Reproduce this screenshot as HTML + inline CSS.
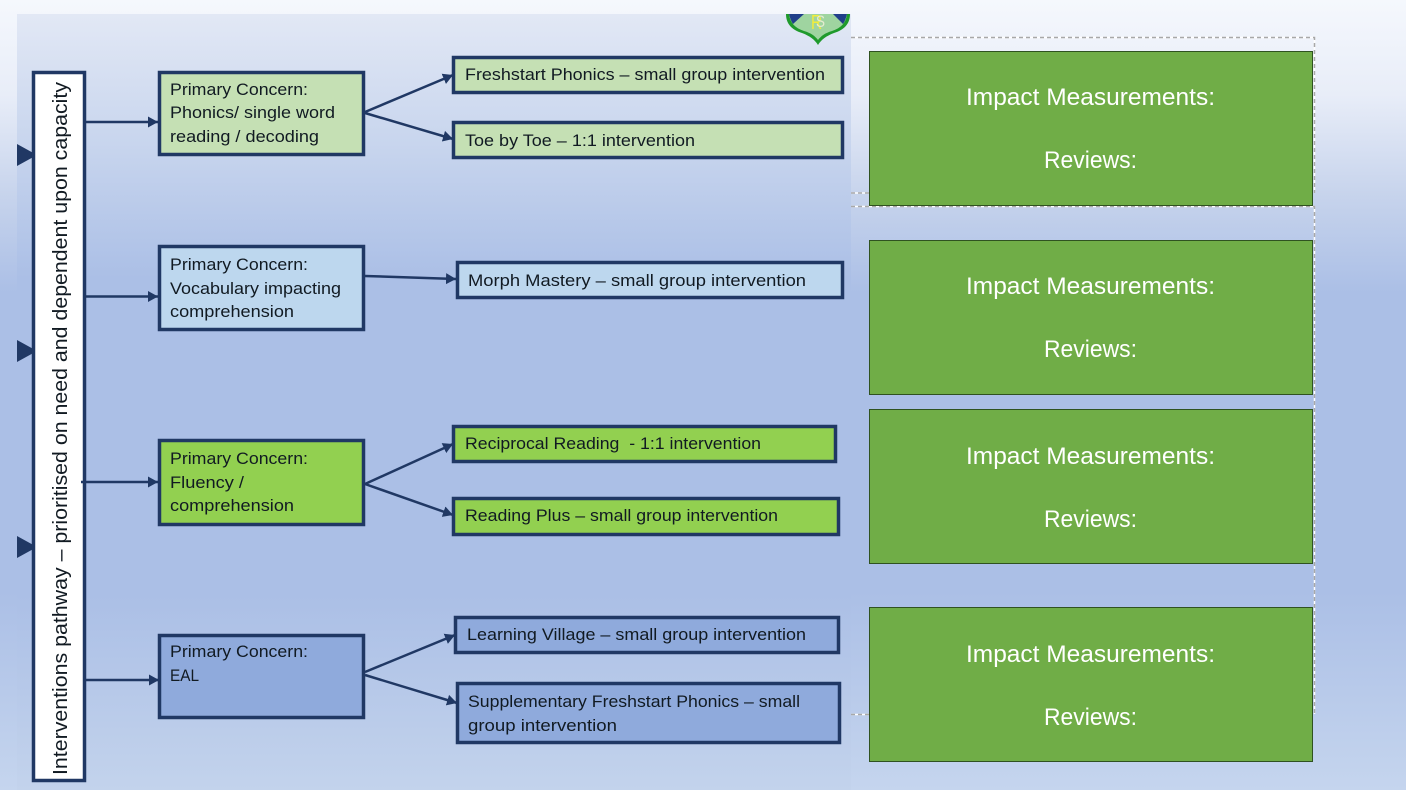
<!DOCTYPE html>
<html lang="en">
<head>
<meta charset="utf-8">
<title>Interventions pathway</title>
<style>
html,body{margin:0;padding:0;width:1406px;height:790px;overflow:hidden;background:#abbfe6}
svg{display:block}
text{font-family:"Liberation Sans",sans-serif;fill:#111a22}
.t{font-size:17px}
.w{font-size:24px;fill:#fff}
</style>
</head>
<body>
<svg width="1406" height="790" viewBox="0 0 1406 790" xmlns="http://www.w3.org/2000/svg">
<defs>
<linearGradient id="o" x1="0" y1="0" x2="0" y2="790" gradientUnits="userSpaceOnUse">
<stop offset="0" stop-color="#f5f8fd"/>
<stop offset=".12" stop-color="#e8edf8"/>
<stop offset=".25" stop-color="#c6d3ec"/>
<stop offset=".37" stop-color="#abbfe6"/>
<stop offset=".75" stop-color="#abbfe6"/>
<stop offset="1" stop-color="#c5d5ee"/>
</linearGradient>
<linearGradient id="i" x1="0" y1="14" x2="0" y2="790" gradientUnits="userSpaceOnUse">
<stop offset="0" stop-color="#e2e8f5"/>
<stop offset=".16" stop-color="#c9d6ee"/>
<stop offset=".34" stop-color="#abbfe6"/>
<stop offset=".75" stop-color="#abbfe6"/>
<stop offset="1" stop-color="#c3d3ec"/>
</linearGradient>
<marker id="a" markerUnits="userSpaceOnUse" markerWidth="11" markerHeight="12" refX="10" refY="6" orient="auto">
<path d="M0 0.500 L10 6 L0 11.500 Z" fill="#203864"/>
</marker>
</defs>

<rect width="1406" height="790" fill="url(#o)"/>
<rect x="17" y="14" width="834" height="776" fill="url(#i)"/>

<!-- Logo -->
<path d="M786 14 C786 24 792 30 802 33 C810 36 815 40 818 45 C821 40 826 36 834 33 C844 30 850 24 850 14 Z" fill="#1f9a2c"/>
<path d="M789 14 C790 23 795 28 804 31 C811 33 815 36 818 40 C821 36 825 33 832 31 C841 28 846 23 847 14 Z" fill="#9fd4a0"/>
<path d="M789 14 L804 14 L793 24 C791 21 790 18 789 14 Z M833 14 L847 14 C846 18 845 21 843 24 Z" fill="#203f8a"/>
<text x="811" y="29" style="font-size:20px;fill:#f2ee3a" textLength="11" lengthAdjust="spacingAndGlyphs">R</text>
<text x="816" y="27" style="font-size:17px;fill:#e6ecd0" textLength="9" lengthAdjust="spacingAndGlyphs">S</text>

<!-- Dashed outlines -->
<g fill="none" stroke-width="1.5">
<path d="M851 37.500H1314.500V193M851 193H869M851 206.500H1314.500V714M851 714.500H869" stroke="#fff"/>
<path d="M851 37.500H1314.500V193M851 193H869M851 206.500H1314.500V714M851 714.500H869" stroke="#a8a8a8" stroke-dasharray="4 3"/>
</g>

<!-- Left triangles -->
<path d="M17 144 L37 155 L17 166 Z M17 340 L37 351 L17 362 Z M17 536 L37 547 L17 558 Z" fill="#203864"/>

<!-- Pathway box -->
<rect x="33.500" y="72.500" width="51" height="708" fill="#fff" stroke="#203864" stroke-width="3.500"/>
<text transform="translate(67 775) rotate(-90)" textLength="693" lengthAdjust="spacingAndGlyphs" style="font-size:20px">Interventions pathway – prioritised on need and dependent upon capacity</text>

<!-- Connectors -->
<g stroke="#203864" stroke-width="2.500" fill="none" marker-end="url(#a)">
<line x1="86" y1="122" x2="158" y2="122"/>
<line x1="86" y1="296.500" x2="158" y2="296.500"/>
<line x1="81" y1="482" x2="158" y2="482"/>
<line x1="86" y1="680" x2="159" y2="680"/>
<line x1="365" y1="112" x2="453" y2="75"/>
<line x1="365" y1="113" x2="453" y2="139"/>
<line x1="365" y1="276" x2="456" y2="279"/>
<line x1="365" y1="484" x2="453" y2="444"/>
<line x1="365" y1="484" x2="453" y2="515"/>
<line x1="365" y1="672" x2="455" y2="635"/>
<line x1="365" y1="675" x2="457" y2="703"/>
</g>

<!-- Boxes -->
<g stroke="#203864" stroke-width="3.500">
<rect x="159.500" y="72.500" width="204" height="82" fill="#c5e0b4"/>
<rect x="159.500" y="246.500" width="204" height="83" fill="#bdd7ee"/>
<rect x="159.500" y="440.500" width="204" height="84" fill="#92d050"/>
<rect x="159.500" y="635.500" width="204" height="82" fill="#8faadc"/>
<rect x="453.500" y="57.500" width="389" height="35" fill="#c5e0b4"/>
<rect x="453.500" y="122.500" width="389" height="35" fill="#c5e0b4"/>
<rect x="457.500" y="262.500" width="385" height="35" fill="#bdd7ee"/>
<rect x="453.500" y="426.500" width="382" height="35" fill="#92d050"/>
<rect x="453.500" y="498.500" width="385" height="36" fill="#92d050"/>
<rect x="455.500" y="617.500" width="383" height="35" fill="#8faadc"/>
<rect x="457.500" y="683.500" width="382" height="59" fill="#8faadc"/>
</g>

<!-- Concern text -->
<text class="t" x="170" y="95" textLength="138" lengthAdjust="spacingAndGlyphs">Primary Concern:</text>
<text class="t" x="170" y="118" textLength="165" lengthAdjust="spacingAndGlyphs">Phonics/ single word</text>
<text class="t" x="170" y="142" textLength="149" lengthAdjust="spacingAndGlyphs">reading / decoding</text>
<text class="t" x="170" y="270" textLength="138" lengthAdjust="spacingAndGlyphs">Primary Concern:</text>
<text class="t" x="170" y="294" textLength="171" lengthAdjust="spacingAndGlyphs">Vocabulary impacting</text>
<text class="t" x="170" y="317" textLength="124" lengthAdjust="spacingAndGlyphs">comprehension</text>
<text class="t" x="170" y="464" textLength="138" lengthAdjust="spacingAndGlyphs">Primary Concern:</text>
<text class="t" x="170" y="488" textLength="74" lengthAdjust="spacingAndGlyphs">Fluency /</text>
<text class="t" x="170" y="511" textLength="124" lengthAdjust="spacingAndGlyphs">comprehension</text>
<text class="t" x="170" y="657" textLength="138" lengthAdjust="spacingAndGlyphs">Primary Concern:</text>
<text class="t" x="170" y="681" textLength="29" lengthAdjust="spacingAndGlyphs">EAL</text>

<!-- Intervention text -->
<text class="t" x="465" y="80" textLength="360" lengthAdjust="spacingAndGlyphs">Freshstart Phonics – small group intervention</text>
<text class="t" x="465" y="146" textLength="230" lengthAdjust="spacingAndGlyphs">Toe by Toe – 1:1 intervention</text>
<text class="t" x="468" y="286" textLength="338" lengthAdjust="spacingAndGlyphs">Morph Mastery – small group intervention</text>
<text class="t" x="465" y="449" textLength="296" lengthAdjust="spacingAndGlyphs" xml:space="preserve">Reciprocal Reading  - 1:1 intervention</text>
<text class="t" x="465" y="521" textLength="313" lengthAdjust="spacingAndGlyphs">Reading Plus – small group intervention</text>
<text class="t" x="467" y="640" textLength="339" lengthAdjust="spacingAndGlyphs">Learning Village – small group intervention</text>
<text class="t" x="468" y="707" textLength="332" lengthAdjust="spacingAndGlyphs">Supplementary Freshstart Phonics – small</text>
<text class="t" x="468" y="731" textLength="149" lengthAdjust="spacingAndGlyphs">group intervention</text>

<!-- Impact boxes -->
<g fill="#70ad47" stroke="#2f5220" stroke-width="1">
<rect x="869.500" y="51.500" width="443" height="154"/>
<rect x="869.500" y="240.500" width="443" height="154"/>
<rect x="869.500" y="409.500" width="443" height="154"/>
<rect x="869.500" y="607.500" width="443" height="154"/>
</g>
<text class="w" x="966" y="105" textLength="249" lengthAdjust="spacingAndGlyphs">Impact Measurements:</text>
<text class="w" x="1044" y="168" textLength="93" lengthAdjust="spacingAndGlyphs">Reviews:</text>
<text class="w" x="966" y="294" textLength="249" lengthAdjust="spacingAndGlyphs">Impact Measurements:</text>
<text class="w" x="1044" y="357" textLength="93" lengthAdjust="spacingAndGlyphs">Reviews:</text>
<text class="w" x="966" y="464" textLength="249" lengthAdjust="spacingAndGlyphs">Impact Measurements:</text>
<text class="w" x="1044" y="527" textLength="93" lengthAdjust="spacingAndGlyphs">Reviews:</text>
<text class="w" x="966" y="662" textLength="249" lengthAdjust="spacingAndGlyphs">Impact Measurements:</text>
<text class="w" x="1044" y="725" textLength="93" lengthAdjust="spacingAndGlyphs">Reviews:</text>
</svg>
</body>
</html>
